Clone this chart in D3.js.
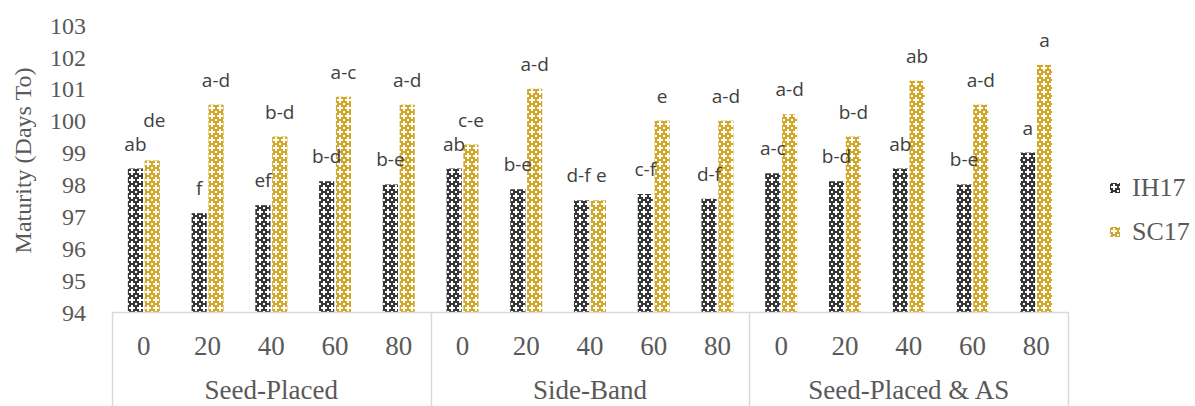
<!DOCTYPE html>
<html>
<head>
<meta charset="utf-8">
<script src="https://cdn.jsdelivr.net/npm/d3@7"></script>
<style>
  html, body { margin: 0; padding: 0; background: #ffffff; }
  svg { display: block; }
</style>
</head>
<body>
<svg id="chart" width="1195" height="406"></svg>
<script>
// Placement groups and N rates (x categories)
const groups = ["Seed-Placed", "Side-Band", "Seed-Placed & AS"];
const rates = ["0", "20", "40", "60", "80"];
const seriesNames = ["IH17", "SC17"];

// Days to maturity, in group order then rate order
const ih17 = [98.5, 97.1, 97.35, 98.1, 98.0,
              98.5, 97.85, 97.5, 97.7, 97.55,
              98.35, 98.1, 98.5, 98.0, 99.0];
const sc17 = [98.75, 100.5, 99.5, 100.75, 100.5,
              99.25, 101.0, 97.5, 100.0, 100.0,
              100.2, 99.5, 101.25, 100.5, 101.75];

// Mean separation letters
const ih17Letters = ["ab", "f", "ef", "b-d", "b-e",
                     "ab", "b-e", "d-f", "c-f", "d-f",
                     "a-c", "b-d", "ab", "b-e", "a"];
const sc17Letters = ["de", "a-d", "b-d", "a-c", "a-d",
                     "c-e", "a-d", "e", "e", "a-d",
                     "a-d", "b-d", "ab", "a-d", "a"];

const yTicks = [94, 95, 96, 97, 98, 99, 100, 101, 102, 103];

const colors = { IH17: "#363636", SC17: "#d2a728" };
const serif = "'Liberation Serif', 'Times New Roman', serif";
const textGray = "#595959";

const svg = d3.select("#chart");

// Lattice fill for each series
const defs = svg.append("defs");
seriesNames.forEach(name => {
  const p = defs.append("pattern")
    .attr("id", "pat-" + name)
    .attr("patternUnits", "userSpaceOnUse")
    .attr("width", 8).attr("height", 8);
  p.append("rect").attr("width", 8).attr("height", 8).attr("fill", colors[name]);
  p.append("rect").attr("x", 3).attr("y", 1).attr("width", 2).attr("height", 6).attr("fill", "#fff");
  p.append("rect").attr("x", 1).attr("y", 3).attr("width", 6).attr("height", 2).attr("fill", "#fff");
  [[0, 0], [7, 7], [7, 0], [0, 7]].forEach(([px, py]) =>
    p.append("rect").attr("x", px).attr("y", py).attr("width", 1).attr("height", 1).attr("fill", "#fff"));
});

const plot = { left: 112, right: 1068, top: 25, bottom: 312 };

const y = d3.scaleLinear().domain([94, 103]).range([plot.bottom, plot.top]);
const xGroup = d3.scaleBand().domain(groups).range([plot.left, plot.right]);
const xRate = d3.scaleBand().domain(rates).range([0, xGroup.bandwidth()]);
const xSeries = d3.scaleBand().domain(seriesNames)
  .range([xRate.bandwidth() / 2 - 16, xRate.bandwidth() / 2 + 16])
  .paddingInner(0.1);

// Flatten into one record per bar
const rows = [];
groups.forEach((g, gi) => {
  rates.forEach((r, ri) => {
    const i = gi * rates.length + ri;
    rows.push({ group: g, rate: r, series: "IH17", value: ih17[i], label: ih17Letters[i] });
    rows.push({ group: g, rate: r, series: "SC17", value: sc17[i], label: sc17Letters[i] });
  });
});
const barX = d => xGroup(d.group) + xRate(d.rate) + xSeries(d.series);

// Y axis: labels only
const yAxis = d3.axisLeft(y).tickValues(yTicks).tickSize(0).tickPadding(0).tickFormat(d3.format("d"));
const yG = svg.append("g").attr("transform", "translate(86,0)").call(yAxis);
yG.select(".domain").remove();
yG.selectAll("text")
  .attr("font-family", serif)
  .attr("font-size", 24).attr("fill", textGray).attr("dy", "0.34em");

// Y title
svg.append("text")
  .attr("transform", `translate(31,${(plot.top + plot.bottom) / 2 - 8}) rotate(-90)`)
  .attr("text-anchor", "middle")
  .attr("font-family", serif)
  .attr("font-size", 24).attr("fill", textGray)
  .text("Maturity (Days To)");

// Bars
svg.append("g").selectAll("rect").data(rows).join("rect")
  .attr("x", barX)
  .attr("y", d => y(d.value))
  .attr("width", xSeries.bandwidth())
  .attr("height", d => y(94) - y(d.value))
  .attr("fill", d => `url(#pat-${d.series})`);

// Letter labels above bars; a few are nudged to keep clear of a neighbour
const labelNudge = {
  "Seed-Placed|0|SC17": [2, -16],
  "Side-Band|40|IH17": [-3, 0],
  "Side-Band|40|SC17": [3, 0]
};
const nudge = d => labelNudge[`${d.group}|${d.rate}|${d.series}`] || [0, 0];
svg.append("g").selectAll("text").data(rows).join("text")
  .attr("x", d => barX(d) + xSeries.bandwidth() / 2 + nudge(d)[0])
  .attr("y", d => y(d.value) - 18 + nudge(d)[1])
  .attr("text-anchor", "middle")
  .attr("font-family", "'Open Sans', 'Noto Sans', sans-serif")
  .attr("font-size", 19).attr("fill", "#404040")
  .text(d => d.label);

// Category axis box lines
const axisColor = "#d9d9d9";
svg.append("line")
  .attr("x1", plot.left).attr("x2", plot.right)
  .attr("y1", y(94) + 0.5).attr("y2", y(94) + 0.5)
  .attr("stroke", axisColor).attr("stroke-width", 1.5);
const bounds = groups.map(g => xGroup(g)).concat([xGroup(groups[groups.length - 1]) + xGroup.bandwidth()]);
svg.append("g").selectAll("line").data(bounds).join("line")
  .attr("x1", d => Math.round(d) + 0.5).attr("x2", d => Math.round(d) + 0.5)
  .attr("y1", y(94)).attr("y2", 406)
  .attr("stroke", axisColor).attr("stroke-width", 1.5);

// Rate tick labels
svg.append("g").selectAll("text").data(rows.filter(d => d.series === "IH17")).join("text")
  .attr("x", d => xGroup(d.group) + xRate(d.rate) + xRate.bandwidth() / 2)
  .attr("y", 355)
  .attr("text-anchor", "middle")
  .attr("font-family", serif)
  .attr("font-size", 27).attr("fill", textGray)
  .text(d => d.rate);

// Group labels
svg.append("g").selectAll("text").data(groups).join("text")
  .attr("x", d => xGroup(d) + xGroup.bandwidth() / 2)
  .attr("y", 399)
  .attr("text-anchor", "middle")
  .attr("font-family", serif)
  .attr("font-size", 27).attr("fill", textGray)
  .text(d => d);

// Legend
const legend = svg.append("g").selectAll("g").data(seriesNames).join("g")
  .attr("transform", (d, i) => `translate(1110,${183 + i * 44})`);
legend.append("rect").attr("width", 10).attr("height", 10)
  .attr("fill", d => `url(#pat-${d})`);
legend.append("text")
  .attr("x", 22).attr("y", 13)
  .attr("font-family", serif)
  .attr("font-size", 26).attr("fill", textGray)
  .text(d => d);
</script>
</body>
</html>
